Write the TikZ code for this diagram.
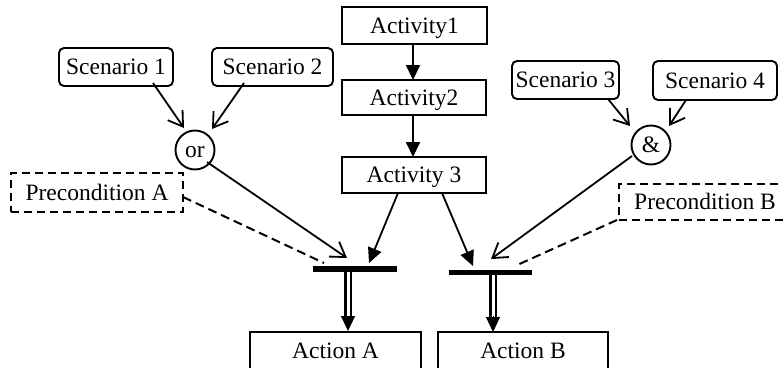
\documentclass[tikz,border=0pt]{standalone}
\usepackage{fontspec}
\setmainfont{Liberation Serif}
\usetikzlibrary{arrows.meta,calc}

\tikzset{
  lbl/.style={font=\fontsize{23.5}{28}\selectfont, inner sep=0pt, outer sep=0pt,
              text height=15.4pt, text depth=0pt, align=center},
  actbox/.style={lbl, draw, line width=1.9pt, rectangle},
  scenbox/.style={lbl, draw, line width=1.9pt, rectangle, rounded corners=5pt},
  precbox/.style={lbl, draw, line width=1.9pt, rectangle, dash pattern=on 8pt off 5pt},
  gate/.style={lbl, draw, line width=1.9pt, circle, minimum size=39pt},
  bar/.style={fill=black, inner sep=0pt, outer sep=0pt, rectangle},
  conn/.style={line width=1.8pt},
  solidtip/.style={conn, -{Triangle[length=15pt,width=14pt]}},
  opentip/.style={conn, -{Straight Barb[length=14pt,width=18pt,line width=1.8pt]}},
  dashconn/.style={line width=2pt, dash pattern=on 9pt off 5pt},
  shaft/.style={line width=2.3pt, double, double distance=3pt},
  headonly/.style={line width=1pt, -{Triangle[length=15pt,width=14pt]}}
}

\begin{document}
\begin{tikzpicture}[x=1pt,y=-1pt]
\useasboundingbox (0,0) rectangle (783,367);
\clip (0,0) rectangle (783,367);

% activity chain
\node[actbox, minimum width=145pt, minimum height=37pt] (act1) at (414.5,25.5) {Activity1};
\node[actbox, minimum width=144pt, minimum height=35pt] (act2) at (414,97.5) {Activity2};
\node[actbox, minimum width=144pt, minimum height=36pt] (act3) at (414,175) {Activity 3};

% scenarios
\node[scenbox, minimum width=114pt, minimum height=38pt] (sc1) at (116,67) {Scenario 1};
\node[scenbox, minimum width=121pt, minimum height=38pt] (sc2) at (272.5,67) {Scenario 2};
\node[scenbox, minimum width=107pt, minimum height=38pt] (sc3) at (565.5,80) {Scenario 3};
\node[scenbox, minimum width=124pt, minimum height=39pt] (sc4) at (715,80.5) {Scenario 4};

% logical gates
\node[gate] (or) at (195,150) {or};
\node[gate] (and) at (651,145) {\&};

% preconditions
\node[precbox, minimum width=172pt, minimum height=39pt] (preA) at (97,192.5) {Precondition A};
\node[precbox, minimum width=172pt, minimum height=36pt] (preB) at (705,202) {Precondition B};

% synchronisation bars
\node[bar, minimum width=84pt, minimum height=6pt] (barA) at (355,269) {};
\node[bar, minimum width=83pt, minimum height=5.5pt] (barB) at (490.5,272.5) {};

% actions
\node[actbox, minimum width=171pt, minimum height=38pt] (actA) at (335.5,351) {Action A};
\node[actbox, minimum width=170pt, minimum height=38pt] (actB) at (523,351) {Action B};

% activity flow
\draw[solidtip] ($(act1.south)+(-1.5,0)$) -- ($(act2.north)+(-1,0)$);
\draw[solidtip] ($(act2.south)+(-1,0)$) -- ($(act3.north)+(-1,0)$);

% scenarios into gates
\draw[opentip] ($(sc1)+(37,16)$) -- ($(or)+(-11,-22)$);
\draw[opentip] ($(sc2)+(-28.5,16)$) -- ($(or)+(17,-21)$);
\draw[opentip] ($(sc3)+(42.5,19)$) -- ($(and)+(-21,-19)$);
\draw[opentip] ($(sc4)+(-29,19.5)$) -- ($(and)+(18,-19)$);

% inputs to bar A
\draw[opentip] ($(or)+(12,12)$) -- ($(barA)+(-8,-11)$);
\draw[solidtip] ($(act3)+(-16,18)$) -- ($(barA)+(14,-6)$);
\draw[dashconn] ($(preA)+(86,4.5)$) -- ($(barA)+(-31,-6)$);

% inputs to bar B
\draw[solidtip] ($(act3)+(28,18)$) -- ($(barB)+(-17.5,-6.5)$);
\draw[opentip] ($(and)+(-19,11)$) -- ($(barB)+(0.5,-13.5)$);
\draw[dashconn] ($(preB)+(-88,18)$) -- ($(barB)+(24.5,-6.5)$);

% bars to actions
\draw[shaft] ($(barA.south)+(-7,0)$) -- ($(actA.north)+(12.5,-14)$);
\draw[headonly] ($(actA.north)+(12.5,-16)$) -- ($(actA.north)+(12.5,-1)$);
\draw[shaft] ($(barB.south)+(2.5,0)$) -- ($(actB.north)+(-30,-14)$);
\draw[headonly] ($(actB.north)+(-30,-16)$) -- ($(actB.north)+(-30,0)$);
\end{tikzpicture}
\end{document}
